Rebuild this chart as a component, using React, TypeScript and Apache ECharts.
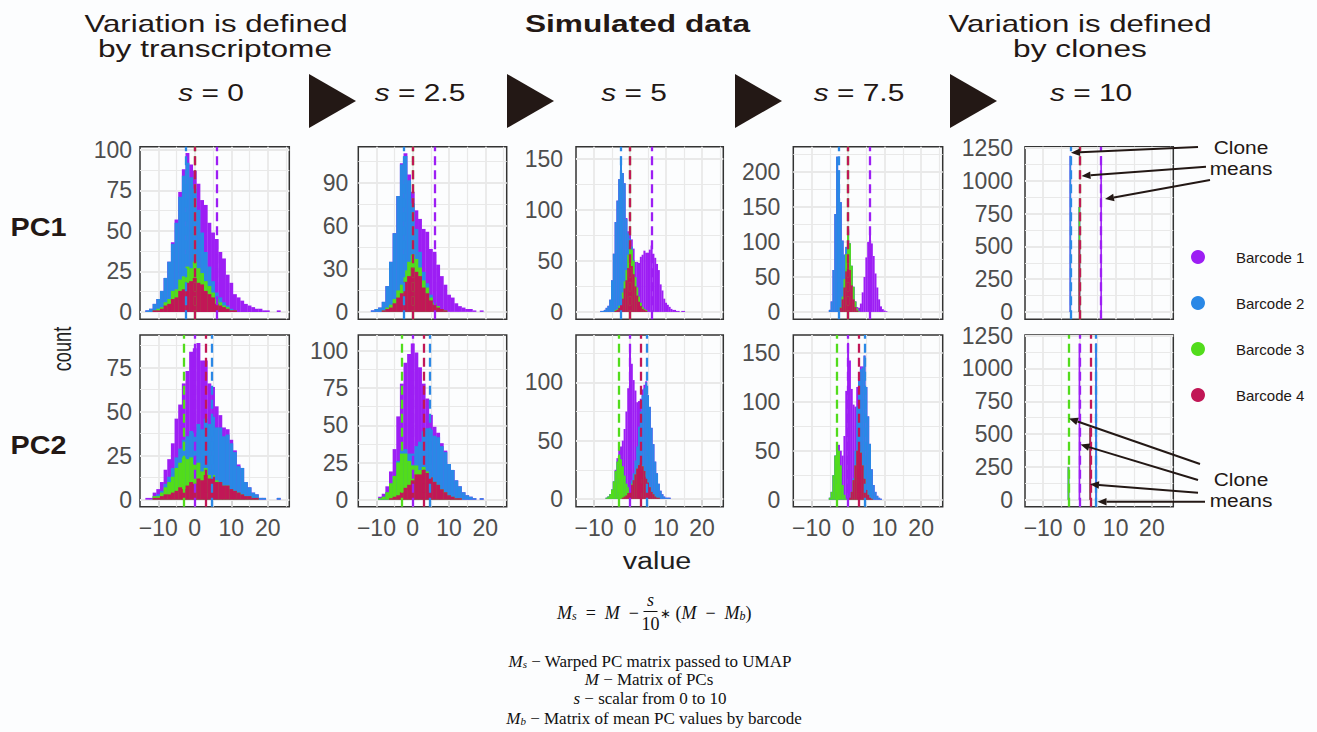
import React, { useEffect, useRef } from 'react';
import * as echarts from 'echarts';

// ---------- categories / labels ----------
const BARCODES = ['Barcode 1', 'Barcode 2', 'Barcode 3', 'Barcode 4'];
const BARCODE_COLORS = ['#9d1ef4', '#2a88e6', '#52dc1c', '#c11756'];
const S_VALUES = ['0', '2.5', '5', '7.5', '10'];
const PC_NAMES = ['PC1', 'PC2'];
const X_TICKS = [-10, 0, 10, 20];
const X_RANGE = [-15, 25.9];
const BIN_WIDTH = [1, 1, 0.5, 0.5];

// clone means (Barcode 1..4)
const MEAN_PC1 = [6, -2.5, 0, 0];
const MEAN_PC2 = [0, 4.6, -3, 3];

// y tick labels and ranges per column (s = 0, 2.5, 5, 7.5, 10)
const Y_TICKS_PC1 = [[0, 25, 50, 75, 100], [0, 30, 60, 90], [0, 50, 100, 150], [0, 50, 100, 150, 200], [0, 250, 500, 750, 1000, 1250]];
const Y_TICKS_PC2 = [[0, 25, 50, 75], [0, 25, 50, 75, 100], [0, 50, 100], [0, 50, 100, 150], [0, 250, 500, 750, 1000, 1250]];
const Y_RANGE_PC1 = [[-4.5, 101.9], [-5.2, 115.5], [-7.2, 161.8], [-10.5, 236.3], [-56, 1260]];
const Y_RANGE_PC2 = [[-4, 93.5], [-4.7, 110.7], [-6.7, 140.7], [-7.1, 168], [-53, 1255]];

// ---------- histogram counts (first bin centre per barcode B1..B4) ----------
// s = 0
const PC1_S0_START = [-6, -13, -10, -11];
const PC1_S0_B1 = [1, 2, 3, 4, 6, 8, 11, 16, 20, 29, 27, 30, 33, 28, 27, 19, 16, 10, 9, 7, 5, 4, 3, 2, 2, 1, 1, 0, 0, 1];
const PC1_S0_B2 = [1, 2, 4, 6, 10, 15, 23, 29, 41, 51, 62, 64, 56, 45, 36, 25, 18, 12, 7, 4, 3, 2, 1, 1];
const PC1_S0_B3 = [1, 1, 2, 3, 5, 5, 7, 8, 10, 8, 10, 9, 7, 6, 5, 3, 3, 2, 1, 1];
const PC1_S0_B4 = [1, 1, 2, 4, 5, 8, 9, 13, 14, 18, 19, 21, 18, 17, 13, 11, 9, 5, 4, 3, 2, 1, 1];
const PC2_S0_START = [-13, -10, -11, -11];
const PC2_S0_B1 = [1, 1, 2, 3, 5, 8, 10, 14, 22, 25, 32, 37, 45, 48, 46, 39, 33, 23, 17, 12, 7, 5, 3, 2, 1, 1];
const PC2_S0_B2 = [1, 1, 2, 3, 5, 6, 8, 10, 13, 15, 18, 22, 24, 28, 29, 33, 30, 31, 28, 29, 26, 22, 15, 15, 8, 5, 3, 2, 1, 1, 0, 0, 0, 1];
const PC2_S0_B3 = [1, 1, 2, 4, 7, 9, 13, 14, 18, 15, 14, 11, 9, 5, 4, 2, 1, 1];
const PC2_S0_B4 = [1, 1, 2, 3, 3, 4, 5, 7, 6, 8, 10, 9, 12, 11, 14, 12, 13, 10, 10, 8, 8, 6, 5, 4, 3, 2, 2, 1, 1];
// s = 2.5
const PC1_S25_START = [-3, -11, -7, -8];
const PC1_S25_B1 = [1, 2, 4, 8, 13, 23, 30, 36, 32, 35, 29, 23, 18, 12, 10, 6, 4, 3, 2, 2, 1, 0, 1];
const PC1_S25_B2 = [1, 2, 3, 6, 15, 30, 46, 66, 84, 80, 57, 36, 21, 11, 6, 3, 2, 1];
const PC1_S25_B3 = [1, 2, 3, 5, 6, 8, 10, 9, 9, 6, 5, 4, 2, 1, 1];
const PC1_S25_B4 = [1, 2, 3, 6, 10, 13, 21, 25, 31, 28, 25, 17, 13, 8, 5, 3, 2, 1];
const PC2_S25_START = [-9, -4, -9, -6];
const PC2_S25_B1 = [1, 2, 4, 8, 18, 30, 45, 58, 67, 74, 63, 50, 32, 20, 10, 6, 3, 2, 1];
const PC2_S25_B2 = [1, 2, 3, 5, 8, 13, 19, 24, 29, 32, 31, 32, 29, 27, 21, 18, 12, 8, 5, 3, 2, 1, 0, 1];
const PC2_S25_B3 = [1, 2, 5, 10, 14, 22, 26, 23, 16, 10, 6, 3, 2, 1];
const PC2_S25_B4 = [1, 2, 3, 5, 8, 10, 13, 17, 17, 20, 18, 15, 12, 10, 7, 5, 3, 2, 1, 1];
// s = 5
const PC1_S5_START = [-1, -8, -4, -4];
const PC1_S5_B1 = [1, 2, 4, 7, 11, 15, 25, 33, 45, 51, 57, 56, 58, 61, 65, 57, 53, 47, 41, 27, 21, 13, 9, 7, 5, 3, 2, 2, 1, 1, 0, 1, 1];
const PC1_S5_B2 = [1, 1, 2, 4, 6, 12, 31, 57, 86, 106, 124, 140, 117, 96, 50, 21, 8, 3, 1];
const PC1_S5_B3 = [1, 1, 2, 3, 6, 7, 10, 13, 14, 16, 13, 9, 8, 5, 3, 2, 1, 1];
const PC1_S5_B4 = [1, 2, 4, 9, 13, 23, 31, 43, 50, 45, 37, 25, 16, 10, 6, 3, 2, 1];
const PC2_S5_START = [-4, 0, -6.5, -2];
const PC2_S5_B1 = [1, 3, 5, 11, 22, 40, 62, 85, 122, 100, 80, 60, 38, 22, 11, 5, 3, 1];
const PC2_S5_B2 = [1, 3, 6, 12, 19, 33, 44, 61, 71, 81, 75, 69, 55, 43, 30, 21, 12, 7, 4, 2, 1, 1, 1];
const PC2_S5_B3 = [1, 2, 4, 8, 15, 24, 32, 38, 34, 27, 18, 10, 5, 2, 1];
const PC2_S5_B4 = [1, 2, 3, 5, 8, 12, 16, 21, 26, 29, 31, 28, 24, 19, 14, 10, 6, 4, 2, 1, 1];
// s = 7.5
const PC1_S75_START = [2.5, -5, -2, -2.5];
const PC1_S75_B1 = [2, 5, 12, 28, 50, 78, 100, 112, 98, 80, 55, 35, 18, 8, 4, 2, 1];
const PC1_S75_B2 = [3, 15, 60, 140, 222, 200, 150, 80, 35, 10, 3];
const PC1_S75_B3 = [1, 4, 12, 25, 40, 38, 28, 18, 8, 3, 1];
const PC1_S75_B4 = [2, 6, 18, 35, 58, 75, 60, 38, 18, 7, 2];
const PC2_S75_START = [-3, 1.5, -5, 0.5];
const PC2_S75_B1 = [2, 6, 15, 30, 60, 110, 160, 140, 105, 75, 45, 20, 8, 3, 1];
const PC2_S75_B2 = [2, 15, 45, 65, 85, 100, 125, 105, 80, 55, 30, 15, 8, 4, 2, 1];
const PC2_S75_B3 = [2, 8, 25, 45, 52, 50, 35, 15, 5, 1];
const PC2_S75_B4 = [2, 8, 20, 35, 50, 56, 48, 35, 22, 10, 5, 2, 1];
// s = 10 (every cell sits on its clone mean)
const PC1_S10_X = [-2.5, 0, 6];
const PC1_S10_B1 = [0, 0, 1190];
const PC1_S10_B2 = [1190, 0, 0];
const PC1_S10_B3 = [0, 250, 0];
const PC1_S10_B4 = [0, 550, 0];
const PC2_S10_X = [-3, 0, 3, 4.6];
const PC2_S10_B1 = [0, 1190, 0, 0];
const PC2_S10_B2 = [0, 0, 0, 1190];
const PC2_S10_B3 = [250, 0, 0, 0];
const PC2_S10_B4 = [0, 0, 550, 0];

// ---------- layout ----------
const GRID_LEFT = [140, 358.3, 576, 793.3, 1025];
const GRID_WIDTH = [149.3, 148.4, 147.3, 149.4, 148.3];
const GRID_TOP = [146.7, 335];
const GRID_HEIGHT = [172.6, 171.7];
const Y_LABEL_MARGIN = [8, 10, 13, 13, 12];
const BAR_PX = [3.9, 3.9, 2.0, 2.0, 1.6];
const INK = '#231815';

const HIST_PC1 = [
  [PC1_S0_START, [PC1_S0_B1, PC1_S0_B2, PC1_S0_B3, PC1_S0_B4]],
  [PC1_S25_START, [PC1_S25_B1, PC1_S25_B2, PC1_S25_B3, PC1_S25_B4]],
  [PC1_S5_START, [PC1_S5_B1, PC1_S5_B2, PC1_S5_B3, PC1_S5_B4]],
  [PC1_S75_START, [PC1_S75_B1, PC1_S75_B2, PC1_S75_B3, PC1_S75_B4]],
];
const HIST_PC2 = [
  [PC2_S0_START, [PC2_S0_B1, PC2_S0_B2, PC2_S0_B3, PC2_S0_B4]],
  [PC2_S25_START, [PC2_S25_B1, PC2_S25_B2, PC2_S25_B3, PC2_S25_B4]],
  [PC2_S5_START, [PC2_S5_B1, PC2_S5_B2, PC2_S5_B3, PC2_S5_B4]],
  [PC2_S75_START, [PC2_S75_B1, PC2_S75_B2, PC2_S75_B3, PC2_S75_B4]],
];
const COLLAPSED = [
  [PC1_S10_X, [PC1_S10_B1, PC1_S10_B2, PC1_S10_B3, PC1_S10_B4]],
  [PC2_S10_X, [PC2_S10_B1, PC2_S10_B2, PC2_S10_B3, PC2_S10_B4]],
];

// put the four barcodes on common bins
function alignBins(step: number, starts: number[], counts: number[][]) {
  let lo = Infinity;
  let hi = -Infinity;
  counts.forEach((c, b) => {
    lo = Math.min(lo, starts[b]);
    hi = Math.max(hi, starts[b] + (c.length - 1) * step);
  });
  const n = Math.round((hi - lo) / step) + 1;
  const xs: number[] = [];
  for (let i = 0; i < n; i++) xs.push(+(lo + i * step).toFixed(3));
  const vals = counts.map((c, b) => xs.map((x) => {
    const k = Math.round((x - starts[b]) / step);
    return k >= 0 && k < c.length ? c[k] : 0;
  }));
  return { xs, vals };
}
// stacked tops: Barcode 4 at the bottom, Barcode 1 on top
function stackTops(xs: number[], vals: number[][]) {
  const order = [3, 2, 1, 0];
  const run = xs.map(() => 0);
  const tops: number[][][] = [[], [], [], []];
  order.forEach((b) => {
    xs.forEach((x, i) => {
      run[i] += vals[b][i];
      tops[b].push([x, run[i]]);
    });
  });
  return tops;
}
function gridValues(ticks: number[], min: number, max: number) {
  const half = (ticks[1] - ticks[0]) / 2;
  const out: { v: number; major: boolean }[] = [];
  if (ticks[0] - half > min) out.push({ v: ticks[0] - half, major: false });
  let k = 0;
  for (let v = ticks[0]; v < max; v += half, k++) out.push({ v, major: k % 2 === 0 });
  return out;
}
const minusFmt = (v: number) => (v < 0 ? '\u2212' + Math.abs(v) : String(v));
const plainFmt = (v: number) => String(v);

function text(t: string, x: number, y: number, size: number, o: any = {}) {
  const align = o.align || 'center';
  return {
    type: 'text', x, y, z: 50,
    scaleX: o.sx || 1, scaleY: o.sy || 1, rotation: o.rot || 0,
    style: {
      text: t, x: 0, y: 0, fill: o.color || INK, fontSize: size,
      fontFamily: o.family || 'Liberation Sans', fontWeight: o.weight || 'normal',
      fontStyle: o.style || 'normal', align, textAlign: align,
      verticalAlign: 'middle', textVerticalAlign: 'middle', rich: o.rich,
    },
  };
}
function arrow(x1: number, y1: number, x2: number, y2: number) {
  const dx = x2 - x1, dy = y2 - y1;
  const len = Math.sqrt(dx * dx + dy * dy);
  const ux = dx / len, uy = dy / len;
  const L = 9, W = 3.8;
  const bx = x2 - ux * L, by = y2 - uy * L;
  return [
    { type: 'line', z: 60, shape: { x1, y1, x2: bx, y2: by }, style: { stroke: INK, lineWidth: 2 } },
    { type: 'polygon', z: 60, shape: { points: [[x2, y2], [bx - uy * W, by + ux * W], [bx + uy * W, by - ux * W]] }, style: { fill: INK } },
  ];
}
const ARROWS = [
  [1198, 147, 1071, 152.7], [1206, 166.7, 1081.5, 176], [1210, 180, 1105, 199],
  [1200, 464, 1069, 418.5], [1198, 480, 1080.5, 444.5], [1198, 492.7, 1090, 484.3], [1205, 501.7, 1097.5, 501.7],
];

function buildOption() {
  const grid: any[] = [], xAxis: any[] = [], yAxis: any[] = [], series: any[] = [];
  for (let r = 0; r < 2; r++) {
    for (let c = 0; c < 5; c++) {
      const i = r * 5 + c;
      const yt = (r === 0 ? Y_TICKS_PC1 : Y_TICKS_PC2)[c];
      const yr = (r === 0 ? Y_RANGE_PC1 : Y_RANGE_PC2)[c];
      const means = r === 0 ? MEAN_PC1 : MEAN_PC2;
      grid.push({ left: GRID_LEFT[c], top: GRID_TOP[r], width: GRID_WIDTH[c], height: GRID_HEIGHT[r], show: true, borderColor: '#333333', borderWidth: 1.5, backgroundColor: 'transparent' });
      xAxis.push({
        gridIndex: i, type: 'value', min: X_RANGE[0], max: X_RANGE[1],
        axisLine: { show: false }, splitLine: { show: false },
        axisTick: { show: r === 1, customValues: X_TICKS, length: 6, lineStyle: { color: '#333333', width: 2 } },
        axisLabel: { show: r === 1, customValues: X_TICKS, formatter: minusFmt, fontSize: 23, color: '#4d4d4d', margin: 10, fontFamily: 'Liberation Sans' },
      });
      yAxis.push({
        gridIndex: i, type: 'value', min: yr[0], max: yr[1],
        axisLine: { show: false }, splitLine: { show: false },
        axisTick: { show: true, customValues: yt, length: 6, lineStyle: { color: '#333333', width: 2 } },
        axisLabel: { customValues: yt, formatter: plainFmt, fontSize: 23, color: '#4d4d4d', margin: Y_LABEL_MARGIN[c], fontFamily: 'Liberation Sans' },
      });
      const gx = gridValues(X_TICKS, X_RANGE[0], X_RANGE[1]);
      const gy = gridValues(yt, yr[0], yr[1]);
      series.push({
        type: 'line', xAxisIndex: i, yAxisIndex: i, data: [], silent: true, z: 1,
        markLine: {
          silent: true, symbol: ['none', 'none'], z: 1, label: { show: false }, emphasis: { disabled: true },
          lineStyle: { color: '#e9e9e9', type: 'solid', width: 1.5 },
          data: [
            ...gx.map((g) => ({ xAxis: g.v, lineStyle: { width: g.major ? 1.8 : 1.2 } })),
            ...gy.map((g) => ({ yAxis: g.v, lineStyle: { width: g.major ? 1.8 : 1.2 } })),
          ],
        },
      });
      let xs: number[];
      let vals: number[][];
      if (c < 4) {
        const h: any = (r === 0 ? HIST_PC1 : HIST_PC2)[c];
        const a = alignBins(BIN_WIDTH[c], h[0], h[1]);
        xs = a.xs;
        vals = a.vals;
      } else {
        const h: any = COLLAPSED[r];
        xs = h[0];
        vals = h[1];
      }
      const tops = stackTops(xs, vals);
      [0, 1, 2, 3].forEach((b) => {
        series.push({
          type: 'bar', name: BARCODES[b], xAxisIndex: i, yAxisIndex: i,
          data: tops[b], barWidth: BAR_PX[c], barGap: '-100%', silent: true, z: 2 + b,
          itemStyle: { color: BARCODE_COLORS[b] }, emphasis: { disabled: true },
        });
      });
      series.push({
        type: 'line', xAxisIndex: i, yAxisIndex: i, data: [], silent: true, z: 8,
        markLine: {
          silent: true, symbol: ['none', 'none'], z: 8, label: { show: false }, emphasis: { disabled: true },
          lineStyle: { type: [9, 5], width: 2.3 },
          data: [0, 1, 2, 3].map((b) => ({ xAxis: means[b], lineStyle: { color: BARCODE_COLORS[b] } })),
        },
      });
    }
  }

  const graphic: any[] = [];
  graphic.push(text('Variation is defined', 216, 23.6, 24, { sx: 1.3 }));
  graphic.push(text('by transcriptome', 215, 48.4, 24, { sx: 1.32 }));
  graphic.push(text('Simulated data', 637.5, 23.6, 24, { sx: 1.32, weight: 'bold' }));
  graphic.push(text('Variation is defined', 1080, 23.6, 24, { sx: 1.3 }));
  graphic.push(text('by clones', 1080, 48.4, 24, { sx: 1.32 }));
  const S_X = [211, 420, 634, 859, 1091];
  S_VALUES.forEach((s, k) => {
    graphic.push(text('{i|s}{n| = ' + s + '}', S_X[k], 93.7, 23, {
      sx: 1.3,
      rich: {
        i: { fontSize: 23, fontStyle: 'italic', fontFamily: 'Liberation Sans', fill: INK },
        n: { fontSize: 23, fontFamily: 'Liberation Sans', fill: INK },
      },
    }));
  });
  const TRI_X = [309, 507, 735, 950];
  TRI_X.forEach((x) => {
    graphic.push({ type: 'polygon', z: 50, shape: { points: [[x, 74], [x + 47, 101], [x, 128]] }, style: { fill: INK } });
  });
  graphic.push(text(PC_NAMES[0], 38.5, 228, 25, { sx: 1.15, weight: 'bold' }));
  graphic.push(text(PC_NAMES[1], 38.5, 446, 25, { sx: 1.15, weight: 'bold' }));
  graphic.push(text('count', 62, 349, 26, { sx: 0.7, rot: Math.PI / 2, color: '#1f1f1f' }));
  graphic.push(text('value', 657, 561, 23, { sx: 1.25, color: '#1f1f1f' }));

  const LEG_Y = [257, 303, 349, 395];
  BARCODES.forEach((name, b) => {
    graphic.push({ type: 'circle', z: 50, shape: { cx: 1198, cy: LEG_Y[b], r: 7 }, style: { fill: BARCODE_COLORS[b] } });
    graphic.push(text(name, 1236, LEG_Y[b], 15, { align: 'left' }));
  });

  graphic.push(text('Clone', 1241, 147, 19, { sx: 1.1 }));
  graphic.push(text('means', 1241, 168, 19, { sx: 1.1 }));
  graphic.push(text('Clone', 1241, 479, 19, { sx: 1.1 }));
  graphic.push(text('means', 1241, 500, 19, { sx: 1.1 }));
  ARROWS.forEach((a) => graphic.push(...arrow(a[0], a[1], a[2], a[3])));

  const serif = 'Liberation Serif';
  const rich = {
    it: { fontFamily: serif, fontSize: 18, fontStyle: 'italic', fill: '#111111' },
    n: { fontFamily: serif, fontSize: 18, fill: '#111111' },
    star: { fontFamily: 'DejaVu Sans', fontSize: 13, fill: '#111111' },
    sub: { fontFamily: serif, fontSize: 12, fontStyle: 'italic', fill: '#111111', verticalAlign: 'bottom', lineHeight: 6 },
  };
  const rich17 = {
    it: { fontFamily: serif, fontSize: 17, fontStyle: 'italic', fill: '#111111' },
    n: { fontFamily: serif, fontSize: 17, fill: '#111111' },
    sub: { fontFamily: serif, fontSize: 11, fontStyle: 'italic', fill: '#111111', verticalAlign: 'bottom', lineHeight: 6 },
  };
  graphic.push(text('{it|M}{sub|s}{n|  =  }{it|M}{n|  \u2212}', 639, 613, 18, { align: 'right', rich, family: serif }));
  graphic.push(text('{it|s}', 650.5, 599.5, 18, { rich, family: serif }));
  graphic.push({ type: 'line', z: 50, shape: { x1: 643.5, y1: 611.5, x2: 657.5, y2: 611.5 }, style: { stroke: '#111111', lineWidth: 1 } });
  graphic.push(text('{n|10}', 650.5, 624, 18, { rich, family: serif }));
  graphic.push(text('{star|\u2217}{n| (}{it|M}{n|  \u2212  }{it|M}{sub|b}{n|)}', 660, 613, 18, { align: 'left', rich, family: serif }));
  graphic.push(text('{it|M}{sub|s}{n| \u2212 Warped PC matrix passed to UMAP}', 650, 661, 17, { rich: rich17, family: serif }));
  graphic.push(text('{it|M}{n| \u2212 Matrix of PCs}', 649, 679, 17, { rich: rich17, family: serif }));
  graphic.push(text('{it|s}{n| \u2212 scalar from 0 to 10}', 650, 698, 17, { rich: rich17, family: serif }));
  graphic.push(text('{it|M}{sub|b}{n| \u2212 Matrix of mean PC values by barcode}', 654, 718, 17, { rich: rich17, family: serif }));

  return {
    animation: false,
    backgroundColor: '#fcfdfe',
    textStyle: { fontFamily: 'Liberation Sans' },
    grid, xAxis, yAxis, series, graphic,
  };
}

export default function App() {
  const ref = useRef<HTMLDivElement>(null);
  useEffect(() => {
    const chart = echarts.init(ref.current as HTMLDivElement, null, { renderer: 'svg' });
    chart.setOption(buildOption() as any);
    return () => chart.dispose();
  }, []);
  return <div ref={ref} style={{ position: 'fixed', left: 0, top: 0, width: 1317, height: 732 }} />;
}
